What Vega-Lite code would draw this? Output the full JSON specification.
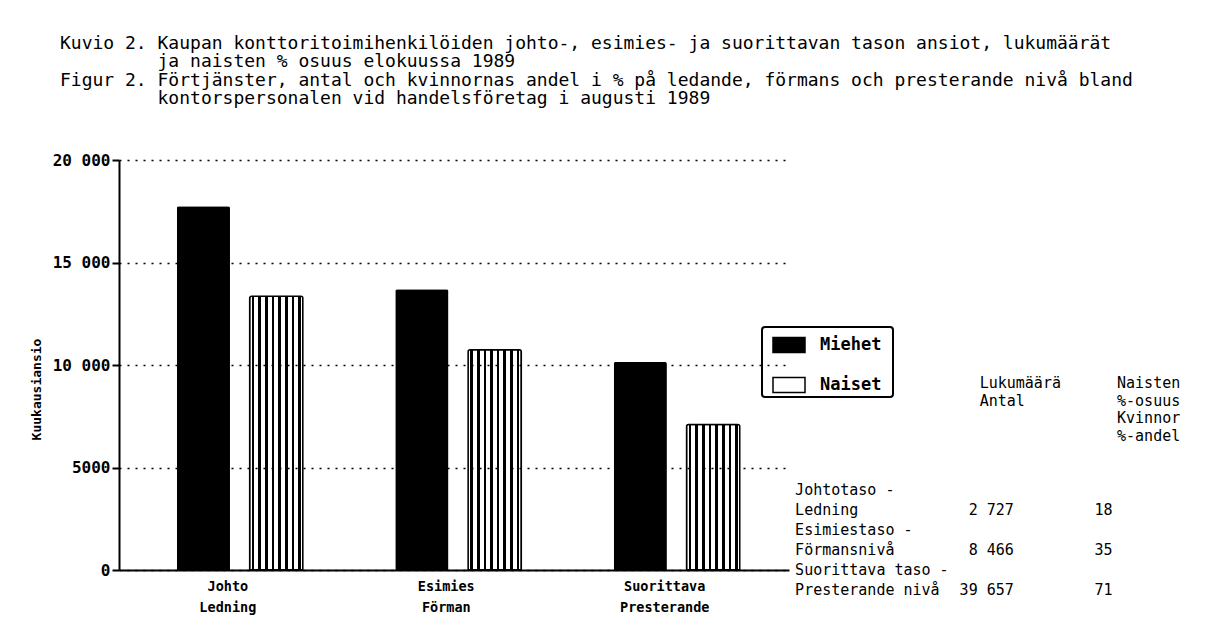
{
  "$schema": "https://vega.github.io/schema/vega-lite/v6.json",
  "padding": {"left": 30, "top": 34, "right": 5, "bottom": 5},
  "background": "white",
  "width": 670,
  "height": 410,
  "title": {
    "text": [
      "Kuvio 2. Kaupan konttoritoimihenkilöiden johto-, esimies- ja suorittavan tason ansiot, lukumäärät",
      "\u200b\u00a0\u00a0\u00a0\u00a0\u00a0\u00a0\u00a0\u00a0\u00a0ja naisten % osuus elokuussa 1989",
      "Figur 2. Förtjänster, antal och kvinnornas andel i % på ledande, förmans och presterande nivå bland",
      "\u200b\u00a0\u00a0\u00a0\u00a0\u00a0\u00a0\u00a0\u00a0\u00a0kontorspersonalen vid handelsföretag i augusti 1989"
    ],
    "anchor": "start",
    "font": "DejaVu Sans Mono",
    "fontSize": 18,
    "fontWeight": "normal",
    "lineHeight": 18.5,
    "color": "black",
    "offset": 44,
    "dx": 30
  },
  "config": {
    "view": {"stroke": null},
    "locale": {"number": {"decimal": ",", "thousands": " ", "grouping": [3], "currency": ["", ""]}}
  },
  "layer": [
    {
      "data": {"values": [
        {"taso": "Johto / Ledning", "sukupuoli": "Miehet", "ansio": 17750},
        {"taso": "Johto / Ledning", "sukupuoli": "Naiset", "ansio": 13350},
        {"taso": "Esimies / Förman", "sukupuoli": "Miehet", "ansio": 13700},
        {"taso": "Esimies / Förman", "sukupuoli": "Naiset", "ansio": 10750},
        {"taso": "Suorittava / Presterande", "sukupuoli": "Miehet", "ansio": 10150},
        {"taso": "Suorittava / Presterande", "sukupuoli": "Naiset", "ansio": 7100}
      ]},
      "encoding": {
        "x": {
          "field": "taso", "type": "nominal", "sort": null,
          "scale": {"paddingInner": 0.423, "paddingOuter": 0.245, "align": 0.54},
          "axis": {
            "title": null, "labelExpr": "split(datum.label, ' / ')",
            "labelFont": "DejaVu Sans Mono", "labelFontWeight": "bold", "labelFontSize": 13.5,
            "labelColor": "black", "labelAngle": 0, "labelPadding": 9, "labelLineHeight": 21,
            "labelOffset": -12, "ticks": false, "tickSize": 0,
            "domainColor": "black", "domainWidth": 2, "grid": false, "zindex": 2
          }
        },
        "xOffset": {
          "field": "sukupuoli", "type": "nominal",
          "scale": {"domain": ["Miehet", "Naiset"], "paddingInner": 0.27, "paddingOuter": 0}
        },
        "y": {
          "field": "ansio", "type": "quantitative",
          "scale": {"domain": [0, 20000], "nice": false},
          "axis": {
            "title": "Kuukausiansio",
            "values": [0, 5000, 10000, 15000, 20000],
            "labelExpr": "datum.value >= 10000 ? format(datum.value / 1000, 'd') + ' 000' : format(datum.value, 'd')",
            "labelFont": "DejaVu Sans Mono", "labelFontWeight": "bold", "labelFontSize": 16,
            "labelColor": "black", "labelPadding": 2,
            "tickSize": 7, "tickColor": "black", "tickWidth": 2,
            "domainColor": "black", "domainWidth": 2,
            "grid": true, "gridColor": "black", "gridDash": [2, 6], "gridWidth": 1.6, "gridOpacity": 1,
            "titleFont": "DejaVu Sans Mono", "titleFontWeight": "bold", "titleFontSize": 13,
            "titleColor": "black", "titleX": -83, "titleY": 229, "titleBaseline": "middle",
            "zindex": 2
          }
        }
      },
      "layer": [
        {
          "transform": [{"filter": "datum.sukupuoli === 'Miehet'"}],
          "mark": {"type": "bar", "cornerRadiusTopLeft": 2, "cornerRadiusTopRight": 2},
          "encoding": {
            "fill": {
              "field": "sukupuoli", "type": "nominal",
              "scale": {"domain": ["Miehet", "Naiset"], "range": ["black", "white"]},
              "legend": {
                "orient": "none", "legendX": 643, "legendY": 167, "title": null,
                "strokeColor": "black", "cornerRadius": 3, "padding": 1,
                "symbolType": "M-1,-0.47H1V0.47H-1Z", "symbolSize": 1024, "symbolOffset": 9,
                "labelFont": "DejaVu Sans Mono", "labelFontWeight": "bold", "labelFontSize": 17,
                "labelExpr": "datum.label + '\u00a0\u200b'",
                "labelColor": "black", "labelOffset": 14, "rowPadding": 12,
                "encode": {
                  "legend": {"update": {"strokeWidth": {"value": 2}}},
                  "symbols": {
                    "update": {
                      "fill": [
                        {"test": "datum.value === 'Naiset'", "value": {
                          "gradient": "linear", "x1": 0, "y1": 0, "x2": 1, "y2": 0,
                          "stops": [
                            {"offset": 0, "color": "white"}, {"offset": 0.04, "color": "white"},
                            {"offset": 0.04, "color": "black"}, {"offset": 0.09, "color": "black"},
                            {"offset": 0.09, "color": "white"}, {"offset": 0.165, "color": "white"},
                            {"offset": 0.165, "color": "black"}, {"offset": 0.215, "color": "black"},
                            {"offset": 0.215, "color": "white"}, {"offset": 0.29, "color": "white"},
                            {"offset": 0.29, "color": "black"}, {"offset": 0.34, "color": "black"},
                            {"offset": 0.34, "color": "white"}, {"offset": 0.415, "color": "white"},
                            {"offset": 0.415, "color": "black"}, {"offset": 0.465, "color": "black"},
                            {"offset": 0.465, "color": "white"}, {"offset": 0.54, "color": "white"},
                            {"offset": 0.54, "color": "black"}, {"offset": 0.59, "color": "black"},
                            {"offset": 0.59, "color": "white"}, {"offset": 0.665, "color": "white"},
                            {"offset": 0.665, "color": "black"}, {"offset": 0.715, "color": "black"},
                            {"offset": 0.715, "color": "white"}, {"offset": 0.79, "color": "white"},
                            {"offset": 0.79, "color": "black"}, {"offset": 0.84, "color": "black"},
                            {"offset": 0.84, "color": "white"}, {"offset": 0.915, "color": "white"},
                            {"offset": 0.915, "color": "black"}, {"offset": 0.965, "color": "black"},
                            {"offset": 0.965, "color": "white"}, {"offset": 1, "color": "white"}
                          ]
                        }},
                        {"value": "black"}
                      ],
                      "stroke": {"value": "black"},
                      "strokeWidth": {"value": 1.5}
                    }
                  }
                }
              }
            }
          }
        },
        {
          "transform": [{"filter": "datum.sukupuoli === 'Naiset'"}],
          "mark": {
            "type": "bar", "stroke": "black", "strokeWidth": 1.5,
            "cornerRadiusTopLeft": 2, "cornerRadiusTopRight": 2,
            "fill": {
              "gradient": "linear", "x1": 0, "y1": 0, "x2": 1, "y2": 0,
              "stops": [
                {"offset": 0, "color": "white"}, {"offset": 0.04, "color": "white"},
                {"offset": 0.04, "color": "black"}, {"offset": 0.09, "color": "black"},
                {"offset": 0.09, "color": "white"}, {"offset": 0.165, "color": "white"},
                {"offset": 0.165, "color": "black"}, {"offset": 0.215, "color": "black"},
                {"offset": 0.215, "color": "white"}, {"offset": 0.29, "color": "white"},
                {"offset": 0.29, "color": "black"}, {"offset": 0.34, "color": "black"},
                {"offset": 0.34, "color": "white"}, {"offset": 0.415, "color": "white"},
                {"offset": 0.415, "color": "black"}, {"offset": 0.465, "color": "black"},
                {"offset": 0.465, "color": "white"}, {"offset": 0.54, "color": "white"},
                {"offset": 0.54, "color": "black"}, {"offset": 0.59, "color": "black"},
                {"offset": 0.59, "color": "white"}, {"offset": 0.665, "color": "white"},
                {"offset": 0.665, "color": "black"}, {"offset": 0.715, "color": "black"},
                {"offset": 0.715, "color": "white"}, {"offset": 0.79, "color": "white"},
                {"offset": 0.79, "color": "black"}, {"offset": 0.84, "color": "black"},
                {"offset": 0.84, "color": "white"}, {"offset": 0.915, "color": "white"},
                {"offset": 0.915, "color": "black"}, {"offset": 0.965, "color": "black"},
                {"offset": 0.965, "color": "white"}, {"offset": 1, "color": "white"}
              ]
            }
          }
        }
      ]
    },
    {
      "data": {"values": [
        {"taso": "Johtotaso -", "nimi": "Ledning", "antal": 2727, "osuus": 18},
        {"taso": "Esimiestaso -", "nimi": "Förmansnivå", "antal": 8466, "osuus": 35},
        {"taso": "Suorittava taso -", "nimi": "Presterande nivå", "antal": 39657, "osuus": 71}
      ]},
      "encoding": {
        "y": {"field": "nimi", "type": "ordinal", "sort": null,
              "scale": {"type": "point", "range": [350, 430], "padding": 0}, "axis": null}
      },
      "layer": [
        {
          "mark": {"type": "text", "align": "left", "baseline": "middle", "dy": -20, "font": "DejaVu Sans Mono", "fontSize": 15, "color": "black"},
          "encoding": {
            "x": {"datum": 77.3, "type": "quantitative", "scale": {"domain": [0, 76.6], "nice": false, "zero": false}, "axis": null},
            "text": {"field": "taso"}
          }
        },
        {
          "mark": {"type": "text", "align": "left", "baseline": "middle", "font": "DejaVu Sans Mono", "fontSize": 15, "color": "black"},
          "encoding": {
            "x": {"datum": 77.3, "type": "quantitative", "scale": {"domain": [0, 76.6], "nice": false, "zero": false}, "axis": null},
            "text": {"field": "nimi"}
          }
        },
        {
          "mark": {"type": "text", "align": "right", "baseline": "middle", "font": "DejaVu Sans Mono", "fontSize": 15, "color": "black"},
          "encoding": {
            "x": {"datum": 102.3, "type": "quantitative", "scale": {"domain": [0, 76.6], "nice": false, "zero": false}, "axis": null},
            "text": {"field": "antal", "type": "quantitative", "format": ",d"}
          }
        },
        {
          "mark": {"type": "text", "align": "right", "baseline": "middle", "font": "DejaVu Sans Mono", "fontSize": 15, "color": "black"},
          "encoding": {
            "x": {"datum": 113.6, "type": "quantitative", "scale": {"domain": [0, 76.6], "nice": false, "zero": false}, "axis": null},
            "text": {"field": "osuus", "type": "quantitative"}
          }
        },
        {
          "data": {"values": [{"teksti": "Lukumäärä|Antal"}]},
          "mark": {"type": "text", "align": "left", "baseline": "top", "lineBreak": "|", "lineHeight": 17.5, "dy": -134, "font": "DejaVu Sans Mono", "fontSize": 15, "color": "black"},
          "encoding": {
            "x": {"datum": 98.4, "type": "quantitative", "scale": {"domain": [0, 76.6], "nice": false, "zero": false}, "axis": null},
            "y": {"datum": "Ledning", "type": "ordinal"},
            "text": {"field": "teksti"}
          }
        },
        {
          "data": {"values": [{"teksti": "Naisten|%-osuus|Kvinnor|%-andel"}]},
          "mark": {"type": "text", "align": "left", "baseline": "top", "lineBreak": "|", "lineHeight": 17.5, "dy": -134, "font": "DejaVu Sans Mono", "fontSize": 15, "color": "black"},
          "encoding": {
            "x": {"datum": 114.1, "type": "quantitative", "scale": {"domain": [0, 76.6], "nice": false, "zero": false}, "axis": null},
            "y": {"datum": "Ledning", "type": "ordinal"},
            "text": {"field": "teksti"}
          }
        }
      ]
    }
  ],
  "resolve": {"scale": {"x": "independent", "y": "independent"}}
}
